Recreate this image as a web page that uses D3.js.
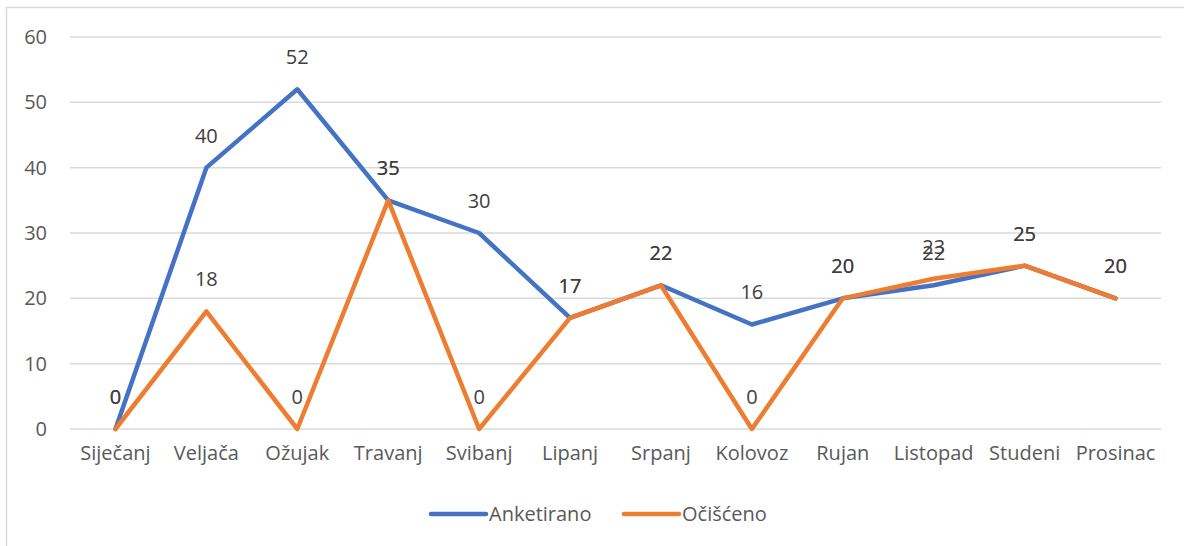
<!DOCTYPE html>
<html>
<head>
<meta charset="utf-8">
<script src="https://cdn.jsdelivr.net/npm/d3@7"></script>
<style>
  body { margin: 0; background: #fff; }
  text { font-family: "Open Sans", "Noto Sans", sans-serif; }
</style>
</head>
<body>
<div id="chart"></div>
<script>

var months = ['Siječanj', 'Veljača', 'Ožujak', 'Travanj', 'Svibanj', 'Lipanj',
  'Srpanj', 'Kolovoz', 'Rujan', 'Listopad', 'Studeni', 'Prosinac']
var anketirano = [0, 40, 52, 35, 30, 17, 22, 16, 20, 22, 25, 20]
var ocisceno = [0, 18, 0, 35, 0, 17, 22, 0, 20, 23, 25, 20]
var yTicks = [0, 10, 20, 30, 40, 50, 60]
var seriesNames = ['Anketirano', 'Očišćeno']
var colors = ['#4472C4', '#ED7D31']

var width = 1184
var height = 546
var fs = 20

var svg = d3.select('#chart')
  .append('svg')
  .attr('width', width)
  .attr('height', height)

// chart border
svg.append('rect')
  .attr('x', 6.5)
  .attr('y', 7.5)
  .attr('width', width + 20)
  .attr('height', height + 20)
  .attr('fill', 'none')
  .attr('stroke', '#d9d9d9')
  .attr('stroke-width', 1.5)

var xScale = d3.scaleBand()
  .domain(months)
  .range([70, 1161])

var yScale = d3.scaleLinear()
  .domain([0, 60])
  .range([429, 37])

// gridlines
svg.append('g')
  .selectAll('line')
  .data(yTicks)
  .join('line')
  .attr('x1', 70)
  .attr('x2', 1161)
  .attr('y1', d => yScale(d))
  .attr('y2', d => yScale(d))
  .attr('stroke', '#d9d9d9')
  .attr('stroke-width', 1.5)

// y axis labels
var yAxis = d3.axisLeft(yScale).tickValues(yTicks).tickSize(0).tickPadding(0)
var gy = svg.append('g')
  .attr('transform', 'translate(47,0)')
  .call(yAxis)
gy.select('.domain').remove()
gy.selectAll('text')
  .attr('fill', '#595959')
  .attr('font-size', fs)
  .style('font-family', '"Open Sans", sans-serif')

// x axis labels
var xAxis = d3.axisBottom(xScale).tickSize(0).tickPadding(0)
var gx = svg.append('g')
  .attr('transform', 'translate(0,446)')
  .call(xAxis)
gx.select('.domain').remove()
gx.selectAll('text')
  .attr('fill', '#595959')
  .attr('font-size', fs)
  .style('font-family', '"Open Sans", sans-serif')

var line = d3.line()
  .x((d, i) => xScale(months[i]) + xScale.bandwidth() / 2)
  .y(d => yScale(d))

var allSeries = [anketirano, ocisceno]

allSeries.forEach(function(values, s) {
  svg.append('path')
    .datum(values)
    .attr('d', line)
    .attr('fill', 'none')
    .attr('stroke', colors[s])
    .attr('stroke-width', 4.5)
    .attr('stroke-linejoin', 'round')
    .attr('stroke-linecap', 'round')
})

allSeries.forEach(function(values, s) {
  svg.append('g')
    .selectAll('text')
    .data(values)
    .join('text')
    .attr('x', (d, i) => xScale(months[i]) + xScale.bandwidth() / 2)
    .attr('y', d => yScale(d) - 32)
    .attr('dy', '0.35em')
    .attr('text-anchor', 'middle')
    .attr('fill', '#404040')
    .attr('font-size', fs)
    .text(d => d)
})

// legend
var legendX = [431, 624]
var legend = svg.append('g')
seriesNames.forEach(function(name, s) {
  legend.append('line')
    .attr('x1', legendX[s])
    .attr('x2', legendX[s] + 55)
    .attr('y1', 514)
    .attr('y2', 514)
    .attr('stroke', colors[s])
    .attr('stroke-width', 4.5)
    .attr('stroke-linecap', 'round')
  legend.append('text')
    .attr('x', legendX[s] + 58)
    .attr('y', 514)
    .attr('dy', '0.35em')
    .attr('fill', '#595959')
    .attr('font-size', fs)
    .text(name)
})

</script>
</body>
</html>
